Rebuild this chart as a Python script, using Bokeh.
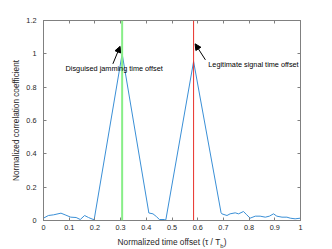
from bokeh.plotting import figure
from bokeh.models import (Span, Label, Arrow, NormalHead, LinearAxis, FixedTicker, Range1d, Div)
from bokeh.layouts import column
from bokeh.embed import file_html
from bokeh.resources import INLINE

# ---- data ----
tau = [0.0, 0.019, 0.039, 0.068, 0.084, 0.106, 0.127, 0.143, 0.16, 0.175, 0.197,
       0.306, 0.41, 0.426, 0.439, 0.451, 0.471, 0.476, 0.584, 0.691, 0.694, 0.714,
       0.726, 0.746, 0.759, 0.778, 0.791, 0.804, 0.824, 0.843, 0.863, 0.879, 0.895,
       0.908, 0.928, 0.947, 0.96, 0.979, 1.0]
corr = [0.014, 0.03, 0.034, 0.044, 0.034, 0.02, 0.018, 0.006, 0.03, 0.018, 0.004,
        1.0, 0.045, 0.04, 0.024, 0.006, 0.006, 0.004, 0.954, 0.046, 0.04, 0.03,
        0.04, 0.046, 0.04, 0.054, 0.034, 0.014, 0.026, 0.026, 0.02, 0.026, 0.04,
        0.026, 0.02, 0.02, 0.014, 0.01, 0.014]

jam_offset = 0.306
legit_offset = 0.584

x_ticks = [0, 0.1, 0.2, 0.3, 0.4, 0.5, 0.6, 0.7, 0.8, 0.9, 1]
x_tick_labels = ["0", "0.1", "0.2", "0.3", "0.4", "0.5", "0.6", "0.7", "0.8", "0.9", "1"]
y_ticks = [0, 0.2, 0.4, 0.6, 0.8, 1.0, 1.2]
y_tick_labels = ["0", "0.2", "0.4", "0.6", "0.8", "1", "1.2"]

y_title = "Normalized correlation coefficient"
x_title_html = "Normalized time offset (\u03c4 / T<sub style='font-size:6px'>b</sub>)"

jam_text = "Disguised jamming time offset"
jam_text_pos = (0.275, 0.912)
jam_arrow = (0.27, 0.94, 0.298, 1.045)
legit_text = "Legitimate signal time offset"
legit_text_pos = (0.817, 0.936)
legit_arrow = (0.63, 0.964, 0.59, 1.06)

FONT = "Liberation Sans"
AX = "#808080"
TXT = "#262626"

p = figure(width=332, height=236, output_backend="svg", toolbar_location=None,
           x_range=Range1d(0, 1), y_range=Range1d(0, 1.2),
           min_border_left=43, min_border_right=32, min_border_top=20,
           min_border_bottom=16, x_axis_location=None, y_axis_location=None)
p.grid.visible = False
p.outline_line_color = AX
p.background_fill_color = "white"
p.border_fill_color = "white"

def style(ax, ticks, labels, show):
    ax.ticker = FixedTicker(ticks=ticks)
    ax.major_label_overrides = {t: (l if show else "") for t, l in zip(ticks, labels)}
    ax.axis_line_color = AX
    ax.major_tick_line_color = AX
    ax.major_tick_in = 3
    ax.major_tick_out = 0
    ax.minor_tick_line_color = None
    ax.major_label_text_font = FONT
    ax.major_label_text_font_size = "7.3px" if show else "1px"
    ax.major_label_text_color = TXT

bx = LinearAxis(); style(bx, x_ticks, x_tick_labels, True); bx.major_label_standoff = 4
p.add_layout(bx, "below")
lx = LinearAxis(); style(lx, y_ticks, y_tick_labels, True); lx.major_label_standoff = 7
lx.axis_label = y_title
lx.axis_label_text_font = FONT
lx.axis_label_text_font_size = "8.2px"
lx.axis_label_text_font_style = "normal"
lx.axis_label_text_color = TXT
lx.axis_label_standoff = 2
p.add_layout(lx, "left")
tx = LinearAxis(); style(tx, x_ticks, x_tick_labels, False); tx.major_label_standoff = 0
p.add_layout(tx, "above")
rx = LinearAxis(); style(rx, y_ticks, y_tick_labels, False); rx.major_label_standoff = 0
p.add_layout(rx, "right")

p.line(tau, corr, line_color="#3a8fd6", line_width=1)

p.add_layout(Span(location=jam_offset, dimension="height", line_color="#88ee88", line_width=2))
p.add_layout(Span(location=legit_offset, dimension="height", line_color="#e8302a", line_width=1))

for (x0, y0, x1, y1) in (jam_arrow, legit_arrow):
    p.add_layout(Arrow(x_start=x0, y_start=y0, x_end=x1, y_end=y1, line_width=1,
                       line_color="black",
                       end=NormalHead(size=6, fill_color="black", line_color="black")))

p.add_layout(Label(x=jam_text_pos[0], y=jam_text_pos[1], text=jam_text, text_font=FONT,
                   text_font_size="7.3px", text_color="black", text_align="center",
                   text_baseline="middle"))
p.add_layout(Label(x=legit_text_pos[0], y=legit_text_pos[1], text=legit_text, text_font=FONT,
                   text_font_size="7.3px", text_color="black", text_align="center",
                   text_baseline="middle"))

xlab = Div(text=x_title_html, width=320, height=13, margin=(0, 0, 0, 12),
           styles={"text-align": "center", "font-family": FONT, "font-size": "8.3px",
                   "color": TXT, "line-height": "13px", "white-space": "nowrap"})

layout = column(p, xlab, spacing=0)
open("out.html", "w").write(file_html(layout, INLINE))
